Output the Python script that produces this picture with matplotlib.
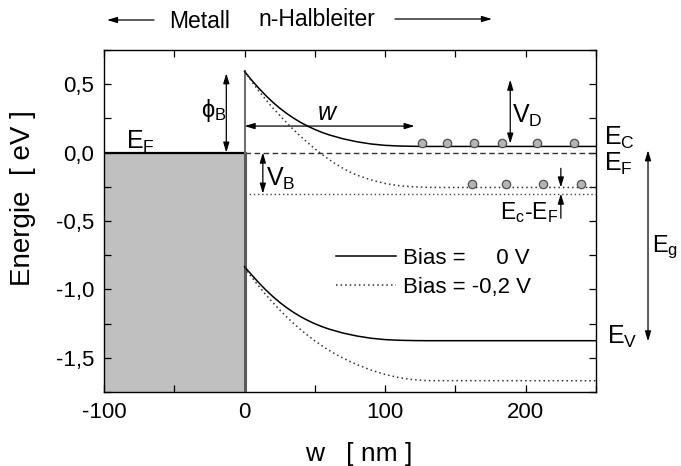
import numpy as np
import matplotlib
matplotlib.use("Agg")
import matplotlib.pyplot as plt
from matplotlib.ticker import MultipleLocator, FixedLocator, FixedFormatter

plt.rcParams['font.family'] = ['Liberation Sans', 'DejaVu Sans']
plt.rcParams['mathtext.fontset'] = 'custom'
plt.rcParams['mathtext.rm'] = 'Liberation Sans'
plt.rcParams['mathtext.it'] = 'Liberation Sans:italic'

# conduction / valence band edges (w in nm, E in eV)
cb0_x = [0, 5, 10, 15, 20, 25, 30, 35, 40, 45, 50, 55, 60, 70, 80, 90, 100, 110, 120, 130, 250]
cb0_y = [0.593, 0.530, 0.472, 0.418, 0.369, 0.325, 0.286, 0.251, 0.220, 0.193, 0.169,
         0.148, 0.130, 0.101, 0.079, 0.063, 0.053, 0.048, 0.046, 0.045, 0.045]
cb2_x = [0, 5, 10, 15, 20, 25, 30, 35, 40, 45, 50, 55, 60, 65, 70, 75, 80, 90, 100, 110, 120, 130, 140, 250]
cb2_y = [0.593, 0.520, 0.452, 0.388, 0.328, 0.272, 0.218, 0.166, 0.118, 0.072, 0.028,
         -0.012, -0.050, -0.084, -0.115, -0.142, -0.165, -0.200, -0.226, -0.242, -0.250,
         -0.254, -0.255, -0.255]
vb0_x = [0, 5, 10, 15, 20, 25, 30, 35, 40, 45, 50, 55, 60, 70, 80, 90, 100, 110, 120, 130, 250]
vb0_y = [-0.835, -0.893, -0.950, -1.003, -1.051, -1.095, -1.134, -1.169, -1.200, -1.227,
         -1.251, -1.272, -1.290, -1.319, -1.341, -1.357, -1.367, -1.372, -1.374, -1.375, -1.375]
vb2_x = [0, 5, 10, 15, 20, 25, 30, 35, 40, 45, 50, 55, 60, 65, 70, 75, 80, 90, 100, 110, 120, 130, 250]
vb2_y = [-0.840, -0.910, -0.975, -1.037, -1.095, -1.150, -1.202, -1.250, -1.295, -1.337,
         -1.376, -1.412, -1.445, -1.475, -1.502, -1.527, -1.550, -1.590, -1.622, -1.645,
         -1.660, -1.667, -1.668]

# electrons sitting on the band edges
el0_x = [126, 144, 163, 183, 208, 234]
el0_y = 0.073
el2_x = [162, 186, 212, 239]
el2_y = -0.226

e_fermi = 0.0
e_fermi_bias = -0.30
metal_x = [-100, 0]
phi_b = 0.58
w_dep = 121

yticks = [0.5, 0.0, -0.5, -1.0, -1.5]
ytick_labels = ["0,5", "0,0", "-0,5", "-1,0", "-1,5"]
xticks = [-100, 0, 100, 200]
xtick_labels = ["-100", "0", "100", "200"]

fig = plt.figure(figsize=(6.81, 4.66), dpi=100)
ax = fig.add_axes([104 / 681, 1 - 392 / 466, 492 / 681, 342 / 466])
ax.set_xlim(-100, 250)
ax.set_ylim(-1.75, 0.75)

# metal
ax.fill_between(metal_x, -1.75, e_fermi, color="#c0c0c0", lw=0, zorder=1)
ax.plot(metal_x, [e_fermi, e_fermi], color="black", lw=1.6, zorder=3)
ax.plot([0, 0], [-1.75, e_fermi], color="#5a5a5a", lw=2.2, zorder=3)
ax.plot([0, 0], [e_fermi, cb0_y[0]], color="#707070", lw=1.5, zorder=3)

# Fermi levels in the semiconductor
ax.plot([0, 250], [e_fermi, e_fermi], color="#333333", lw=1.0, dashes=(4, 2.5), zorder=2)
ax.plot([0, 250], [e_fermi_bias, e_fermi_bias], color="#444444", lw=1.0, dashes=(1, 2), zorder=2)

l0, = ax.plot(cb0_x, cb0_y, color="black", lw=1.1, zorder=4)
l2, = ax.plot(cb2_x, cb2_y, color="#333333", lw=1.1, dashes=(1, 2), zorder=4)
ax.plot(vb0_x, vb0_y, color="black", lw=1.1, zorder=4)
ax.plot(vb2_x, vb2_y, color="#333333", lw=1.1, dashes=(1, 2), zorder=4)

for xs, yv in ((el0_x, el0_y), (el2_x, el2_y)):
    ax.plot(xs, [yv] * len(xs), "o", ms=6, mfc="#b4b4b4", mec="#505050", mew=0.9, zorder=5)

leg = ax.legend([l0, l2], ["Bias =     0 V", "Bias = -0,2 V"], loc="center left",
                bbox_to_anchor=(0.4715, 0.349), frameon=False, fontsize=16,
                handlelength=2.7, handletextpad=0.3, labelspacing=0.35, borderpad=0,
                borderaxespad=0)

# arrows
arr = dict(arrowstyle="<|-|>,head_length=0.6,head_width=0.18", color="black",
           lw=0.9, shrinkA=0, shrinkB=0)
one = dict(arrowstyle="-|>,head_length=0.6,head_width=0.18", color="black",
           lw=0.9, shrinkA=0, shrinkB=0)
ax.annotate("", xy=(-13, phi_b), xytext=(-13, e_fermi), arrowprops=arr)
ax.annotate("", xy=(w_dep, 0.194), xytext=(0, 0.194), arrowprops=arr)
ax.annotate("", xy=(189, 0.533), xytext=(189, 0.066), arrowprops=arr)
ax.annotate("", xy=(13, e_fermi), xytext=(13, e_fermi_bias), arrowprops=arr)
ax.annotate("", xy=(225, -0.255), xytext=(225, -0.115), arrowprops=one)
ax.annotate("", xy=(225, -0.30), xytext=(225, -0.48), arrowprops=one)
ax.annotate("", xy=(287, 0.017), xytext=(287, -1.38), arrowprops=arr,
            annotation_clip=False)

fs = 18
ax.text(-84.7, 0.025, r"E$_\mathrm{F}$", fontsize=fs, ha="left", va="baseline")
ax.text(-31, 0.31, r"ϕ$_\mathrm{B}$", fontsize=17, ha="left", va="center")
ax.text(58.4, 0.29, "w", fontsize=fs, style="italic", ha="center", va="center")
ax.text(190.5, 0.27, r"V$_\mathrm{D}$", fontsize=fs, ha="left", va="center")
ax.text(15.4, -0.19, r"V$_\mathrm{B}$", fontsize=fs, ha="left", va="center")
ax.text(182.0, -0.437, r"E$_\mathrm{c}$-E$_\mathrm{F}$", fontsize=16.5, ha="left", va="center")
ax.text(256, 0.105, r"E$_\mathrm{C}$", fontsize=fs, ha="left", va="center", clip_on=False)
ax.text(256, -0.085, r"E$_\mathrm{F}$", fontsize=fs, ha="left", va="center", clip_on=False)
ax.text(258, -1.346, r"E$_\mathrm{V}$", fontsize=fs, ha="left", va="center", clip_on=False)
ax.text(289.5, -0.69, r"E$_\mathrm{g}$", fontsize=17, ha="left", va="center", clip_on=False)

# top annotation
fig.text(199.5 / 681, 1 - 21 / 466, "Metall", fontsize=16.5, ha="center", va="center")
fig.text(316.5 / 681, 1 - 19 / 466, "n-Halbleiter", fontsize=16.5, ha="center", va="center")
ax.annotate("", xy=(107, 446), xytext=(154, 446), xycoords="figure pixels",
            textcoords="figure pixels", arrowprops=one)
ax.annotate("", xy=(492, 447), xytext=(395, 447), xycoords="figure pixels",
            textcoords="figure pixels", arrowprops=one)

# axes styling
ax.xaxis.set_major_locator(FixedLocator(xticks))
ax.xaxis.set_major_formatter(FixedFormatter(xtick_labels))
ax.xaxis.set_minor_locator(MultipleLocator(50))
ax.yaxis.set_major_locator(FixedLocator(yticks))
ax.yaxis.set_major_formatter(FixedFormatter(ytick_labels))
ax.yaxis.set_minor_locator(MultipleLocator(0.25))
ax.tick_params(which="both", direction="in", top=True, right=True, length=5,
               width=0.9, labelsize=16, pad=7)
for sp in ax.spines.values():
    sp.set_linewidth(1.0)

ax.set_ylabel("Energie  [ eV ]", fontsize=20)
ax.yaxis.set_label_coords(-0.138, 0.567)
ax.set_xlabel("w   [ nm ]", fontsize=19)
ax.xaxis.set_label_coords(0.518, -0.145)

fig.savefig("out.png", dpi=100)
